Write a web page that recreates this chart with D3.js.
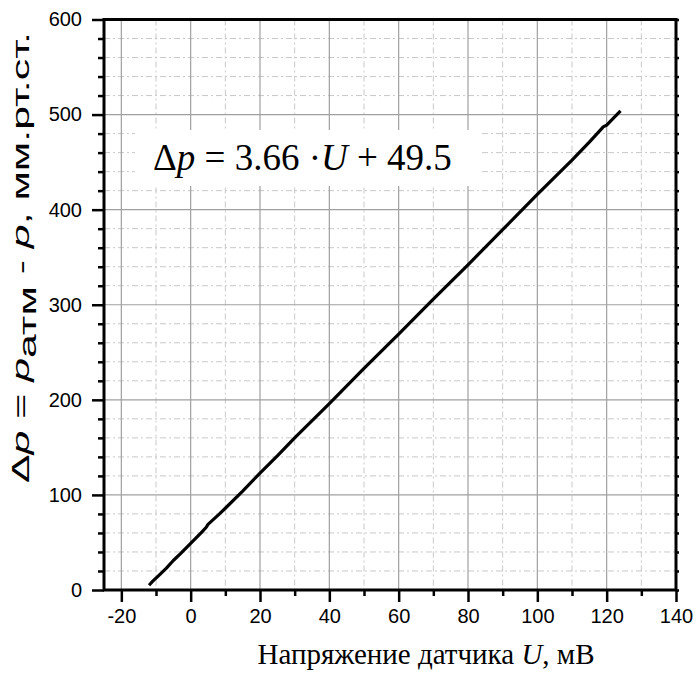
<!DOCTYPE html>
<html>
<head>
<meta charset="utf-8">
<script src="https://cdn.jsdelivr.net/npm/d3@7"></script>
<style>
  body { margin: 0; background: #fff; }
  svg { display: block; }
</style>
</head>
<body>
<div id="chart"></div>
<script>
var voltage  = [-12, -11, -9, -7, -5, -3, 0, 3, 4.5, 5, 8, 10, 15, 20, 25, 30, 40, 50, 60, 70, 80, 90, 100, 110, 115, 118.5, 119, 120, 124];
var pressure = [5, 9, 16, 23, 31, 38, 49, 60, 66, 69, 79, 86, 104, 123, 141, 160, 196, 233, 269, 306, 342, 379, 416, 452, 471, 485, 487, 489, 504];

var xMajor = [-20, 0, 20, 40, 60, 80, 100, 120, 140];
var xMinor = [-10, 10, 30, 50, 70, 90, 110, 130];
var yMajor = [0, 100, 200, 300, 400, 500, 600];
var yMinor = [20, 40, 60, 80, 120, 140, 160, 180, 220, 240, 260, 280, 320, 340, 360, 380, 420, 440, 460, 480, 520, 540, 560, 580];

var width = 700, height = 674;
var pLeft = 104, pRight = 676, pTop = 19.5, pBottom = 590;

var svg = d3.select("#chart").append("svg")
    .attr("width", width)
    .attr("height", height);

var x = d3.scaleLinear().domain([-25, 140]).range([pLeft, pRight]);
var y = d3.scaleLinear().domain([0, 600]).range([pBottom, pTop]);
var fmt = function(d) { return String(d); };

// grid - minor first (dash-dot), then major (solid)
var grid = svg.append("g");
grid.selectAll(".vminor").data(xMinor).enter().append("line")
    .attr("x1", d => x(d)).attr("x2", d => x(d))
    .attr("y1", pTop).attr("y2", pBottom)
    .attr("stroke", "#c8c8c8").attr("stroke-width", 1)
    .attr("stroke-dasharray", "6,3,2,3");
grid.selectAll(".hminor").data(yMinor).enter().append("line")
    .attr("x1", pLeft).attr("x2", pRight)
    .attr("y1", d => y(d)).attr("y2", d => y(d))
    .attr("stroke", "#c8c8c8").attr("stroke-width", 1)
    .attr("stroke-dasharray", "6,3,2,3");
grid.selectAll(".vmajor").data(xMajor).enter().append("line")
    .attr("x1", d => x(d)).attr("x2", d => x(d))
    .attr("y1", pTop).attr("y2", pBottom)
    .attr("stroke", "#a0a0a0").attr("stroke-width", 1.2);
grid.selectAll(".hmajor").data(yMajor).enter().append("line")
    .attr("x1", pLeft).attr("x2", pRight)
    .attr("y1", d => y(d)).attr("y2", d => y(d))
    .attr("stroke", "#a0a0a0").attr("stroke-width", 1.2);

// box behind the equation
svg.append("rect")
    .attr("x", 135).attr("y", 130)
    .attr("width", 345).attr("height", 56)
    .attr("fill", "#fff");

// data line
var pts = voltage.map((v, i) => [v, pressure[i]]);
svg.append("path")
    .datum(pts)
    .attr("fill", "none")
    .attr("stroke", "#000")
    .attr("stroke-width", 3.2)
    .attr("stroke-linejoin", "round")
    .attr("d", d3.line().x(d => x(d[0])).y(d => y(d[1])));

// axes
var xAxis = svg.append("g")
    .attr("transform", "translate(0," + pBottom + ")")
    .call(d3.axisBottom(x).tickValues(xMajor).tickSize(12).tickFormat(fmt));
svg.append("g")
    .attr("transform", "translate(0," + pBottom + ")")
    .call(d3.axisBottom(x).tickValues(xMinor).tickSize(6).tickFormat(""));
var yAxis = svg.append("g")
    .attr("transform", "translate(" + pLeft + ",0)")
    .call(d3.axisLeft(y).tickValues(yMajor).tickSize(12).tickFormat(fmt));
svg.append("g")
    .attr("transform", "translate(" + pLeft + ",0)")
    .call(d3.axisLeft(y).tickValues(yMinor).tickSize(6).tickFormat(""));
svg.append("g")
    .attr("transform", "translate(" + pRight + ",0)")
    .call(d3.axisRight(y).tickValues(yMinor.concat(yMajor)).tickSize(3).tickFormat(""));

svg.selectAll(".domain").remove();
svg.selectAll(".tick line").attr("stroke", "#000").attr("stroke-width", 2.5);
svg.selectAll(".tick text")
    .attr("fill", "#000")
    .style("font-family", "'Liberation Sans', Arial, sans-serif")
    .style("font-size", "20px");
xAxis.selectAll(".tick text").attr("y", 19);
yAxis.selectAll(".tick text").attr("x", -22);

// frame
svg.append("rect")
    .attr("x", pLeft).attr("y", pTop)
    .attr("width", pRight - pLeft).attr("height", pBottom - pTop)
    .attr("fill", "none")
    .attr("stroke", "#000")
    .attr("stroke-width", 3);

// equation
var eq = svg.append("text")
    .attr("x", 153).attr("y", 170)
    .style("font-family", "'Liberation Serif', 'Times New Roman', serif")
    .style("font-size", "37px");
eq.append("tspan").text("\u0394");
eq.append("tspan").style("font-style", "italic").text("p");
eq.append("tspan").text(" = 3.66 \u00b7");
eq.append("tspan").style("font-style", "italic").text("U");
eq.append("tspan").text(" + 49.5");

// x axis title
var xt = svg.append("text")
    .attr("x", 426).attr("y", 664)
    .attr("text-anchor", "middle")
    .style("font-family", "'Liberation Serif', 'Times New Roman', serif")
    .style("font-size", "29px");
xt.append("tspan").text("Напряжение датчика ");
xt.append("tspan").style("font-style", "italic").text("U");
xt.append("tspan").text(", мВ");

// y axis title, stretched along its length like the original
var yg = svg.append("g");
var yt = yg.append("text")
    .style("font-family", "'Liberation Sans', Arial, sans-serif")
    .style("font-size", "24px");
yt.append("tspan").text("\u0394");
yt.append("tspan").style("font-style", "italic").text("p");
yt.append("tspan").text(" = ");
yt.append("tspan").style("font-style", "italic").text("p");
yt.append("tspan").attr("dy", 7).text("атм");
yt.append("tspan").attr("dy", -7).text(" - ");
yt.append("tspan").style("font-style", "italic").text("p");
yt.append("tspan").text(", мм.рт.ст.");
var len = yt.node().getComputedTextLength();
var k = 451 / len;
yg.attr("transform", "translate(29,483) rotate(-90) scale(" + k + ",1)");
</script>
</body>
</html>
